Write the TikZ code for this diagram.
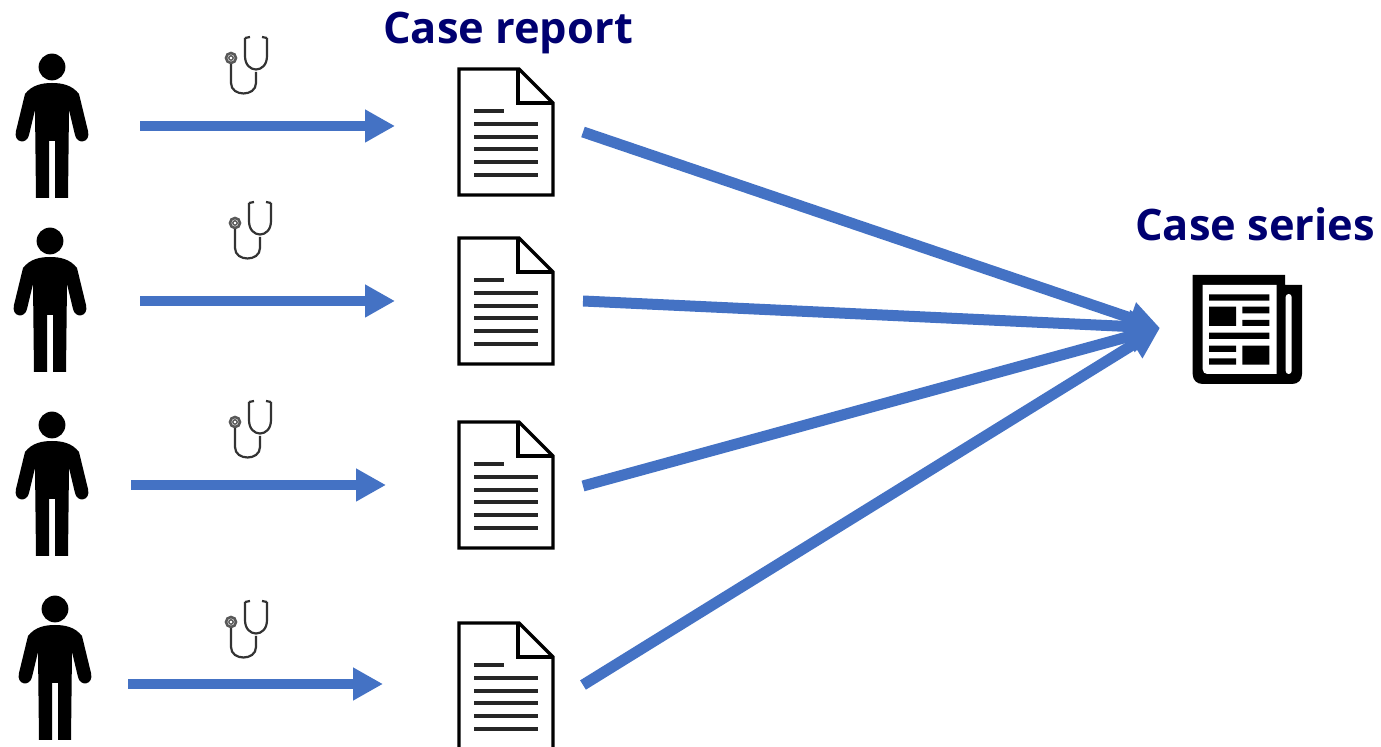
\documentclass[tikz,border=0pt]{standalone}
\usepackage{fontspec}
\setmainfont{Open Sans}
\usetikzlibrary{arrows.meta}
\definecolor{flow}{HTML}{4472C4}
\definecolor{heading}{HTML}{000070}
\tikzset{
  x=0.5pt,y=-0.5pt,
  smallflow/.style={draw=flow,line width=5pt,-{Triangle[length=15pt,width=15.5pt]}},
  bigflow/.style={draw=flow,line width=5.5pt,-{Triangle[length=15.5pt,width=15.5pt]}},
  headtext/.style={text=heading,font=\fontsize{21.7}{25}\selectfont\bfseries,inner sep=0pt,anchor=base},
  pics/person/.style={code={
    \fill[black] (0,0) circle (6.7pt);
    \fill[black] (0,16) .. controls (-10,16) and (-20,18) .. (-27,27)
      -- (-36,64) .. controls (-39,76) and (-25,78) .. (-23,68)
      -- (-17,43) -- (-16,131) -- (-3,131) -- (-3,74) -- (3,74) -- (3,131) -- (16,131) -- (17,43)
      -- (23,68) .. controls (25,78) and (39,76) .. (36,64)
      -- (27,27) .. controls (20,18) and (10,16) .. (0,16) -- cycle;
  }},
  pics/scope/.style={code={
    \draw[line width=1.3pt,draw=black!65] (0,0) circle (2.5pt);
    \draw[line width=0.7pt,draw=black!65] (0,0) circle (1.1pt);
    \draw[line width=1.1pt,draw=black!80] (0,6) -- (0,25) .. controls (0,39) and (25,39) .. (25,25) -- (25,14);
    \draw[line width=1.1pt,draw=black!80] (14,-20) -- (14,-2) .. controls (14,16) and (36,16) .. (36,-2) -- (36,-20);
    \draw[line width=1.1pt,draw=black!80] (14,-20) -- (19,-21) (36,-20) -- (31,-21);
  }},
  pics/report/.style={code={
    \draw[line width=1.7pt,line join=miter] (0,0) -- (60,0) -- (94,34) -- (94,126) -- (0,126) -- cycle;
    \draw[line width=1.7pt] (59,0) -- (59,34) -- (94,34);
    \draw[line width=1.6pt,draw=black!85] (15,42) -- (45,42);
    \foreach \yy in {55,68,80,93,106} \draw[line width=1.6pt,draw=black!85] (15,\yy) -- (79,\yy);
  }}
}
\begin{document}
\begin{tikzpicture}
\useasboundingbox (0,0) rectangle (1381,747);
\clip (0,0) rectangle (1381,747);
% people
\node[inner sep=0pt,minimum size=0pt] (p1) at (52,67) {};
\node[inner sep=0pt,minimum size=0pt] (p2) at (50,241) {};
\node[inner sep=0pt,minimum size=0pt] (p3) at (52,425) {};
\node[inner sep=0pt,minimum size=0pt] (p4) at (55,609) {};
\foreach \n in {1,2,3,4} \pic at (p\n) {person};
% stethoscopes
\node[inner sep=0pt] (s1) at (231,58) {};
\node[inner sep=0pt] (s2) at (235,223) {};
\node[inner sep=0pt] (s3) at (235,422) {};
\node[inner sep=0pt] (s4) at (231,622) {};
\foreach \n in {1,2,3,4} \pic at (s\n) {scope};
% reports
\node[inner sep=0pt] (d1) at (459,69) {};
\node[inner sep=0pt] (d2) at (459,238) {};
\node[inner sep=0pt] (d3) at (459,422) {};
\node[inner sep=0pt] (d4) at (459,623) {};
\foreach \n in {1,2,3,4} \pic at (d\n) {report};
% connector ends
\coordinate (a1) at (140,126); \coordinate (b1) at (395,126);
\coordinate (a2) at (140,301); \coordinate (b2) at (395,301);
\coordinate (a3) at (131,485); \coordinate (b3) at (386,485);
\coordinate (a4) at (128,684); \coordinate (b4) at (383,684);
\coordinate (c1) at (583,132);
\coordinate (c2) at (583,301);
\coordinate (c3) at (583,486);
\coordinate (c4) at (583,685);
\coordinate (hub) at (1160,328);
\foreach \n in {1,2,3,4} {
  \draw[smallflow] (a\n) -- (b\n);
  \draw[bigflow] (c\n) -- (hub);
}
% headings
\node[headtext] (t1) at (508,44) {Case report};
\node[headtext] (t2) at (1255,241) {Case series};
% newspaper
\begin{scope}[shift={(1120,260)},x=0.16667pt,y=-0.16667pt]
  \fill[black] (218,45) -- (495,45) -- (495,75) -- (546,75) -- (546,342)
    .. controls (546,360) and (534,372) .. (516,372) -- (248,372)
    .. controls (230,372) and (218,360) .. (218,342) -- cycle;
  \fill[white] (248,75) -- (470,75) -- (470,342) -- (262,342) .. controls (254,342) and (248,336) .. (248,328) -- cycle;
  \fill[white,rounded corners=1.5pt] (497,102) rectangle (515,342);
  \fill[black] (267,103) rectangle (448,122)
    (267,140) rectangle (348,198)
    (367,140) rectangle (448,160)
    (367,180) rectangle (448,198)
    (267,218) rectangle (448,237)
    (267,257) rectangle (348,276)
    (267,295) rectangle (348,314)
    (367,257) rectangle (448,314);
\end{scope}
\end{tikzpicture}
\end{document}
